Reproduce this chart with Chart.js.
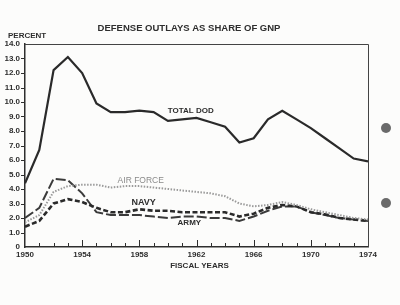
<!DOCTYPE html>
<html>
<head>
<meta charset="utf-8">
<script src="https://cdn.jsdelivr.net/npm/chart.js@4/dist/chart.umd.min.js"></script>
<style>
  html, body { margin: 0; padding: 0; background: #fcfcfb; }
  #wrap { position: relative; width: 400px; height: 305px; }
  .hole { position: absolute; width: 10px; height: 10px; border-radius: 50%; background: #6a6a6a; }
</style>
</head>
<body>
<div id="wrap">
  <canvas id="chart" width="400" height="305"></canvas>
  <div class="hole" style="left:381px; top:123px"></div>
  <div class="hole" style="left:381px; top:198px"></div>
</div>
<script>
// ---- data ----
const years = [1950, 1951, 1952, 1953, 1954, 1955, 1956, 1957, 1958, 1959, 1960, 1961, 1962,
               1963, 1964, 1965, 1966, 1967, 1968, 1969, 1970, 1971, 1972, 1973, 1974];
const totalDod = [4.4, 6.7, 12.2, 13.1, 12.0, 9.9, 9.3, 9.3, 9.4, 9.3, 8.7, 8.8, 8.9,
                  8.6, 8.3, 7.2, 7.5, 8.8, 9.4, 8.8, 8.2, 7.5, 6.8, 6.1, 5.9];
const airForce = [1.7, 2.2, 3.8, 4.2, 4.3, 4.3, 4.1, 4.2, 4.2, 4.1, 4.0, 3.9, 3.8,
                  3.7, 3.5, 3.0, 2.8, 2.9, 3.1, 2.9, 2.6, 2.4, 2.2, 2.0, 1.9];
const navy = [1.4, 1.8, 3.0, 3.3, 3.1, 2.7, 2.4, 2.4, 2.6, 2.5, 2.5, 2.4, 2.4,
              2.4, 2.4, 2.1, 2.3, 2.7, 2.9, 2.8, 2.4, 2.25, 2.0, 1.9, 1.8];
const army = [2.0, 2.7, 4.7, 4.6, 3.7, 2.4, 2.2, 2.2, 2.2, 2.1, 2.0, 2.1, 2.1,
              2.0, 2.0, 1.8, 2.1, 2.5, 2.8, 2.8, 2.4, 2.2, 2.0, 1.9, 1.8];

const FONT = "'Liberation Sans', Arial, sans-serif";
const INK = "#2e2e2e";

// where the series names sit, in data units
const seriesLabels = [
  { text: "TOTAL DOD", x: 1961.6, y: 9.4, color: INK, weight: "bold", size: 8 },
  { text: "AIR FORCE", x: 1958.1, y: 4.6, color: "#8a8a8a", weight: "normal", size: 8.5 },
  { text: "NAVY", x: 1958.3, y: 3.05, color: INK, weight: "bold", size: 9 },
  { text: "ARMY", x: 1961.5, y: 1.65, color: INK, weight: "bold", size: 8 },
];

const pts = (vals) => years.map((yr, i) => ({ x: yr, y: vals[i] }));

const decor = {
  id: "decor",
  beforeDraw(chart) {
    const ctx = chart.ctx;
    ctx.save();
    ctx.fillStyle = "#fcfcfb";
    ctx.fillRect(0, 0, chart.width, chart.height);
    ctx.restore();
  },
  afterDraw(chart) {
    const { ctx, chartArea: a, scales: { x, y } } = chart;
    ctx.save();
    // frame (top + right)
    ctx.strokeStyle = "#444";
    ctx.lineWidth = 1;
    ctx.beginPath();
    ctx.moveTo(a.left, a.top + 0.5);
    ctx.lineTo(a.right + 0.5, a.top + 0.5);
    ctx.lineTo(a.right + 0.5, a.bottom);
    ctx.stroke();

    // tick marks: y outside, x inside
    ctx.strokeStyle = INK;
    ctx.lineWidth = 1;
    ctx.beginPath();
    y.ticks.forEach((t) => {
      if (t.value <= 0 || t.value >= 14) return;
      const py = Math.round(y.getPixelForValue(t.value)) + 0.5;
      ctx.moveTo(a.left - 4, py);
      ctx.lineTo(a.left, py);
    });
    x.ticks.forEach((t) => {
      if (t.value <= 1950 || t.value >= 1974) return;
      const px = Math.round(x.getPixelForValue(t.value)) + 0.5;
      const len = t.value % 4 === 2 ? 7 : 4;
      ctx.moveTo(px, a.bottom);
      ctx.lineTo(px, a.bottom - len);
    });
    ctx.stroke();

    // texts
    ctx.fillStyle = INK;
    ctx.textAlign = "center";
    ctx.textBaseline = "middle";
    ctx.font = "bold 9.5px " + FONT;
    ctx.fillText("DEFENSE OUTLAYS AS SHARE OF GNP", 189, 28);
    ctx.font = "bold 8px " + FONT;
    ctx.textAlign = "left";
    ctx.fillText("PERCENT", 8, 36);
    ctx.textAlign = "center";
    ctx.fillText("FISCAL YEARS", (a.left + a.right) / 2 + 3, 266);

    seriesLabels.forEach((l) => {
      ctx.fillStyle = l.color;
      ctx.font = `${l.weight} ${l.size}px ${FONT}`;
      ctx.fillText(l.text, x.getPixelForValue(l.x), y.getPixelForValue(l.y));
    });
    ctx.restore();
  },
};

new Chart(document.getElementById("chart"), {
  type: "line",
  data: {
    datasets: [
      { label: "TOTAL DOD", data: pts(totalDod), borderColor: "#2a2a2a", borderWidth: 2.2 },
      { label: "AIR FORCE", data: pts(airForce), borderColor: "#9a9a9a", borderWidth: 2, borderDash: [1.5, 1.5] },
      { label: "NAVY", data: pts(navy), borderColor: "#2a2a2a", borderWidth: 2.6, borderDash: [5, 2.5] },
      { label: "ARMY", data: pts(army), borderColor: "#3a3a3a", borderWidth: 2, borderDash: [10, 3] },
    ],
  },
  options: {
    responsive: false,
    animation: false,
    events: [],
    elements: { point: { radius: 0 }, line: { tension: 0, borderCapStyle: "butt" } },
    layout: { padding: { top: 44, right: 32, left: 0, bottom: 0 } },
    plugins: { legend: { display: false }, tooltip: { enabled: false }, title: { display: false } },
    scales: {
      x: {
        type: "linear",
        min: 1950,
        max: 1974,
        grid: { display: false, drawTicks: false },
        border: { display: true, color: "#2e2e2e", width: 1.5 },
        ticks: {
          stepSize: 1,
          autoSkip: false,
          maxRotation: 0,
          padding: 3,
          color: INK,
          font: { family: FONT, size: 8, weight: "bold" },
          callback: (v) => (v % 4 === 2 ? String(v) : ""),
        },
        afterFit: (s) => { s.height = 58; },
      },
      y: {
        min: 0,
        max: 14,
        grid: { display: false, drawTicks: false },
        border: { display: true, color: "#2e2e2e", width: 1.5 },
        ticks: {
          stepSize: 1,
          padding: 5,
          color: INK,
          font: { family: FONT, size: 8, weight: "bold" },
          callback: (v) => (v === 0 ? "0" : v.toFixed(1)),
        },
        afterFit: (s) => { s.width = 25; },
      },
    },
  },
  plugins: [decor],
});
</script>
</body>
</html>
